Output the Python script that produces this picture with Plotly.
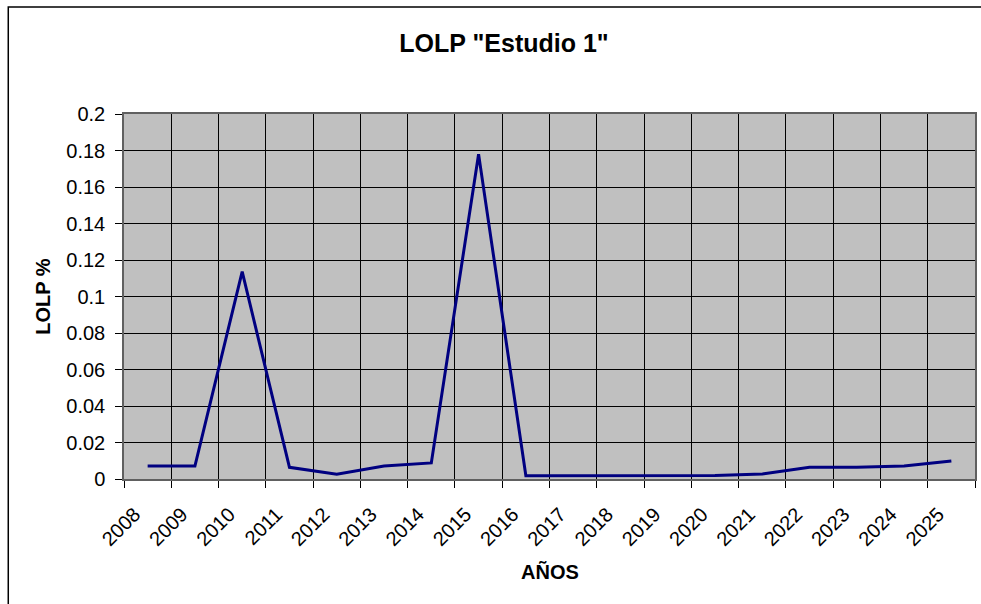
import plotly.graph_objects as go

# LOLP per year, study 1
years = ["2008", "2009", "2010", "2011", "2012", "2013", "2014", "2015", "2016",
         "2017", "2018", "2019", "2020", "2021", "2022", "2023", "2024", "2025"]
lolp = [0.0071, 0.0071, 0.1136, 0.0064, 0.0026, 0.0071, 0.0088, 0.1780, 0.0018,
        0.0018, 0.0018, 0.0018, 0.0019, 0.0027, 0.0064, 0.0064, 0.0071, 0.0099]
y_ticks = [0, 0.02, 0.04, 0.06, 0.08, 0.1, 0.12, 0.14, 0.16, 0.18, 0.2]
y_labels = ["0", "0.02", "0.04", "0.06", "0.08", "0.1", "0.12", "0.14", "0.16", "0.18", "0.2"]

FONT = "Arial, Liberation Sans, sans-serif"
W, H = 981, 604
L, R, T, B = 124, 4, 114, 125
pw, ph = W - L - R, H - T - B

fig = go.Figure()
fig.add_trace(go.Scatter(
    x=years, y=lolp, mode="lines",
    line=dict(color="#000080", width=3),
    showlegend=False, hoverinfo="x+y",
))

fig.update_layout(
    width=W, height=H,
    margin=dict(l=L, r=R, t=T, b=B),
    paper_bgcolor="white",
    plot_bgcolor="#C0C0C0",
    font=dict(family=FONT, color="black", size=20),
    title=dict(
        text='LOLP "Estudio 1"',
        font=dict(family=FONT, size=25, color="black", weight="bold"),
        xref="container", yref="container",
        x=504 / W, xanchor="center",
        y=1 - 43 / H, yanchor="middle",
    ),
    xaxis=dict(
        type="category",
        tickson="boundaries",
        showgrid=True, gridcolor="black", gridwidth=1,
        ticks="outside", ticklen=7, tickcolor="black", tickwidth=1,
        tickangle=-45,
        tickfont=dict(size=20),
        ticklabelstandoff=14, ticklabelshift=-13,
        showline=True, linecolor="#606060", linewidth=1.5, mirror=True,
        range=[-0.5, len(years) - 0.5],
    ),
    yaxis=dict(
        range=[0, 0.2],
        tickvals=y_ticks, ticktext=y_labels,
        showgrid=True, gridcolor="black", gridwidth=1,
        ticks="outside", ticklen=7, tickcolor="black", tickwidth=1,
        tickfont=dict(size=20),
        ticklabelstandoff=6,
        showline=True, linecolor="#606060", linewidth=1.5, mirror=True,
        zeroline=False,
    ),
    annotations=[
        dict(text="AÑOS", xref="paper", yref="paper",
             x=0.5, y=-(572 - (T + ph)) / ph,
             xanchor="center", yanchor="middle", showarrow=False,
             font=dict(family=FONT, size=20, color="black", weight="bold")),
        dict(text="LOLP %", xref="paper", yref="paper",
             x=(42 - L) / pw, y=0.5, textangle=-90,
             xanchor="center", yanchor="middle", showarrow=False,
             font=dict(family=FONT, size=20, color="black", weight="bold")),
    ],
    shapes=[
        # chart frame
        dict(type="rect", xref="paper", yref="paper",
             x0=(8 - L) / pw, x1=(1020 - L) / pw,
             y0=-(640 - (T + ph)) / ph, y1=(T + ph - 7) / ph,
             line=dict(color="black", width=1.5), fillcolor="rgba(0,0,0,0)",
             layer="below"),
    ],
)

fig.write_html("out.html")
